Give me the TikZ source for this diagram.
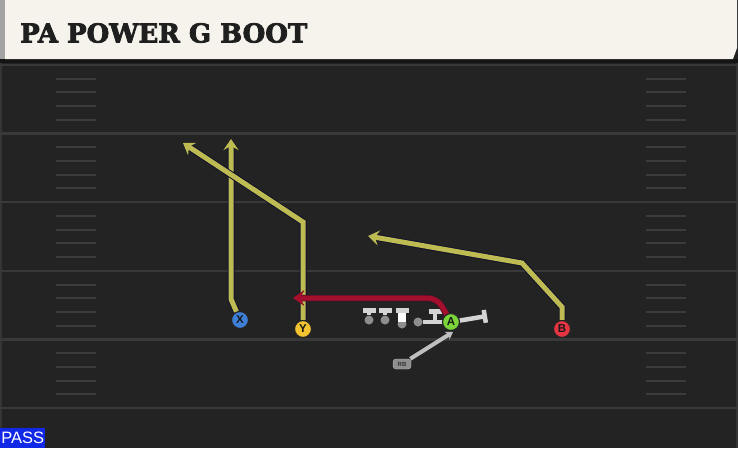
\documentclass[tikz,border=0pt]{standalone}
\usepackage{fontspec}
\setmainfont{Liberation Sans}
\newfontfamily\titlefont{DejaVu Serif}[BoldFeatures={FakeBold=3}]
\usetikzlibrary{arrows.meta}
\definecolor{fieldbg}{HTML}{232323}
\definecolor{yardcol}{HTML}{393939}
\definecolor{hashcol}{HTML}{3B3B3B}
\definecolor{headerbg}{HTML}{F5F3EC}
\definecolor{headeredge}{HTML}{A3A3A3}
\definecolor{routeyellow}{HTML}{BDBB52}
\definecolor{routered}{HTML}{A30F2D}
\definecolor{routeedge}{HTML}{12122A}
\definecolor{blockgray}{HTML}{D4D4D4}
\definecolor{olgray}{HTML}{8E8E8E}
\definecolor{xblue}{HTML}{3E7FD8}
\definecolor{yyellow}{HTML}{F4C430}
\definecolor{bred}{HTML}{E63541}
\definecolor{agreen}{HTML}{7AD43A}
\definecolor{passblue}{HTML}{1128E6}

\begin{document}
\begin{tikzpicture}[x=1pt,y=-1pt,
		player/.style={circle,draw=black!85,line width=1.2pt,minimum size=17pt,inner sep=0pt,font=\bfseries\fontsize{11.5}{11.5}\selectfont,text=black!90},
		lineman/.style={circle,fill=olgray,minimum size=9pt,inner sep=0pt},
		route/.style={draw=routeyellow,line width=5pt,preaction={draw=routeedge,line width=7pt},-{Stealth[length=11pt,width=15pt,inset=4pt]}},
		redroute/.style={draw=routered,line width=5pt,rounded corners=9pt,preaction={draw=routeedge!60!routered,line width=6.5pt},-{Stealth[length=11pt,width=15pt,inset=4pt]}},
		block/.style={draw=blockgray,line width=4.5pt,-{Bar[width=13pt]}},
		yardline/.style={draw=yardcol,line width=2.5pt},
		hashline/.style={draw=hashcol,line width=2pt}]
	\useasboundingbox (0,0) rectangle (738,448);
	\fill[fieldbg] (0,0) rectangle (738,448);
	\draw[draw=yardcol!80!fieldbg,line width=2pt] (1,59) -- (1,448);
	\draw[draw=yardcol!80!fieldbg,line width=2pt] (737,59) -- (737,448);
	
	\foreach \s in {0,...,5}
		\draw[yardline] (0,{65+68.6*\s}) -- (738,{65+68.6*\s});
	\foreach \s in {0,...,4}
		\foreach \k in {1,...,4}{
			\draw[hashline] (56,{65+68.6*\s+13.72*\k}) -- (96,{65+68.6*\s+13.72*\k});
			\draw[hashline] (646,{65+68.6*\s+13.72*\k}) -- (686,{65+68.6*\s+13.72*\k});
		}
	
	\fill[black!92] (0,59) rectangle (738,63);
	\fill[headeredge] (0,0) rectangle (5,59);
	\fill[headerbg] (5,0) -- (737,0) -- (737,48) -- (733,59) -- (5,59) -- cycle;
	\node[anchor=west,inner sep=0pt,text=black!88,font=\titlefont\bfseries\fontsize{26}{26}\selectfont] (title) at (20,33) {PA POWER G BOOT};
	\node[anchor=south west,fill=passblue,text=white,inner sep=0pt,minimum width=45pt,minimum height=20pt,font=\fontsize{16.5}{16.5}\selectfont] (pass) at (0,448) {PASS};
	
	\node[player,fill=xblue] (X) at (240,320) {X};
	\node[player,fill=yyellow] (Y) at (303,329) {Y};
	\node[player,fill=bred] (B) at (562,329) {B};
	\node[lineman] (lt) at (369,320) {};
	\node[lineman] (lg) at (385,320) {};
	\node[lineman] (c) at (402,324) {};
	\node[fill=white,minimum width=8.5pt,minimum height=9pt,inner sep=0pt] (ball) at (402,317.5) {};
	\node[lineman] (rg) at (418,322) {};
	\coordinate (rt) at (435,322);
	\node[draw=olgray!60!white,fill=olgray,rounded corners=3pt,minimum width=18pt,minimum height=10pt,inner sep=0pt,text=black!80,font=\bfseries\fontsize{6}{6}\selectfont] (RB) at (402,364) {RB};
	
	\coordinate (ltblock) at (369,308);
	\coordinate (lgblock) at (385,308);
	\coordinate (cblock) at (402,308);
	\coordinate (rtblock) at (435,309);
	\draw[block] (lt) -- (ltblock);
	\draw[block] (lg) -- (lgblock);
	\draw[block] (ball) -- (cblock);
	\draw[block] (rt) -- (rtblock);
	
	\coordinate (xbend) at (231,299);
	\coordinate (xend) at (231,139);
	\coordinate (ybend) at (303,222);
	\coordinate (yend) at (183,143);
	\coordinate (bbend) at (562,307);
	\coordinate (bbend2) at (522,263);
	\coordinate (bend) at (368,236);
	\coordinate (redbend) at (437,298);
	\coordinate (redend) at (293,298);
	\coordinate (pullend) at (487,316);
	\coordinate (rbend) at (453,332);
	\coordinate (astart) at (447,315);
	
	\draw[route] (X) -- (xbend) -- (xend);
	\draw[route] (Y) -- (ybend) -- (yend);
	\draw[route] (B) -- (bbend) -- (bbend2) -- (bend);
	\draw[redroute] (astart) -- (redbend) -- (redend);
	\draw[draw=blockgray,line width=4.5pt] (rg) -- (rt) -- (451,322);
	\draw[block] (451,322) -- (pullend);
	\draw[draw=blockgray!90!black,line width=4pt,-{Stealth[length=7pt,width=9pt]}] (RB) -- (rbend);
	
	\node[player,fill=agreen] (A) at (451,322) {A};
\end{tikzpicture}
\end{document}
